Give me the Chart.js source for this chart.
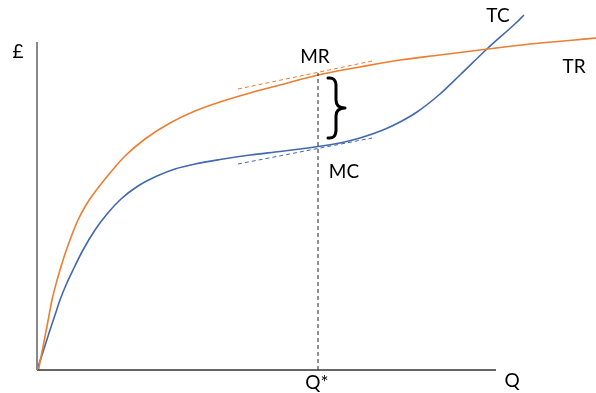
<!DOCTYPE html>
<html>
<head>
<meta charset="utf-8">
<script src="https://cdn.jsdelivr.net/npm/chart.js@4.4.1/dist/chart.umd.min.js"></script>
<style>
html,body{margin:0;padding:0;background:#fff;}
#wrap{width:596px;height:393px;position:relative;}
</style>
</head>
<body>
<div id="wrap"><canvas id="c"></canvas></div>
<script>
// Quantity (x) and £ (y) values
const trX = [1.5, 5, 11, 15, 19, 23, 29, 36, 41, 49, 55, 73, 88, 108, 133, 158, 183, 213, 243, 281, 323, 363, 403, 451, 493, 560];
const trY = [0, 18, 49, 70, 86, 100, 119, 138, 150, 165, 174, 197, 214, 231, 247, 259, 268, 277, 285, 295, 303, 310, 315, 321, 326, 332];
const tcX = [0, 6, 12, 18, 23, 29, 36, 46, 58, 70, 84, 101, 120, 138, 158, 183, 213, 243, 263, 281, 303, 323, 346, 363, 380, 403, 423, 451, 480, 487];
const tcY = [0, 18, 37, 55, 70, 85, 100, 120, 140, 156, 171, 184, 194, 201, 206, 210.5, 215, 218.5, 221, 223.5, 227, 232, 240, 248, 258, 276, 295, 322, 348, 355];
const mrTangentX = [201, 335];
const mrTangentY = [281, 309];
const mcTangentX = [201, 335];
const mcTangentY = [206, 232];
const qStar = 281;
const qStarTop = 297;
const xAxisEnd = 459;
const yAxisEnd = 328;
const labels = [
  {text: '£', x: -19, y: 318},
  {text: 'MR', x: 278, y: 313},
  {text: 'MC', x: 307, y: 198},
  {text: 'TC', x: 461, y: 354},
  {text: 'TR', x: 537, y: 303},
  {text: 'Q', x: 475, y: -11},
  {text: 'Q*', x: 280, y: -13}
];
const brace = {left: 291, stem: 299, tip: 308, top: 293, bottom: 231};

const pts = (xs, ys) => xs.map((x, i) => ({x, y: ys[i]}));
const ORANGE = '#ED7D31', BLUE = '#4268B0';

const annot = {
  id: 'annot',
  afterDatasetsDraw(chart) {
    const {ctx, scales: {x, y}} = chart;
    ctx.save();
    ctx.fillStyle = '#000';
    ctx.font = '19px Lato';
    ctx.textAlign = 'center';
    ctx.textBaseline = 'middle';
    labels.forEach(l => ctx.fillText(l.text, x.getPixelForValue(l.x), y.getPixelForValue(l.y)));
    // curly brace
    const L = x.getPixelForValue(brace.left), S = x.getPixelForValue(brace.stem), P = x.getPixelForValue(brace.tip);
    const T = y.getPixelForValue(brace.top), B = y.getPixelForValue(brace.bottom), M = (T + B) / 2;
    ctx.strokeStyle = '#000';
    ctx.lineWidth = 3;
    ctx.lineCap = 'round';
    ctx.lineJoin = 'round';
    ctx.beginPath();
    ctx.moveTo(L, T + 1);
    ctx.quadraticCurveTo(S, T, S, T + 9);
    ctx.lineTo(S, M - 8);
    ctx.quadraticCurveTo(S, M, P, M);
    ctx.quadraticCurveTo(S, M, S, M + 8);
    ctx.lineTo(S, B - 9);
    ctx.quadraticCurveTo(S, B, L, B - 1);
    ctx.stroke();
    ctx.restore();
  }
};

new Chart(document.getElementById('c'), {
  type: 'scatter',
  data: {
    datasets: [
      {data: pts([0, 0], [0, yAxisEnd]), borderColor: '#888', borderWidth: 2, showLine: true, pointRadius: 0},
      {data: pts([0, xAxisEnd], [0, 0]), borderColor: '#333', borderWidth: 1.5, showLine: true, pointRadius: 0},
      {data: pts([qStar, qStar], [0, qStarTop]), borderColor: '#222', borderWidth: 1, borderDash: [4, 3], showLine: true, pointRadius: 0},
      {data: pts(mrTangentX, mrTangentY), borderColor: ORANGE, borderWidth: 1, borderDash: [4, 3], showLine: true, pointRadius: 0},
      {data: pts(mcTangentX, mcTangentY), borderColor: BLUE, borderWidth: 1, borderDash: [4, 3], showLine: true, pointRadius: 0},
      {data: pts(trX, trY), borderColor: ORANGE, borderWidth: 1.6, showLine: true, pointRadius: 0, cubicInterpolationMode: 'monotone'},
      {data: pts(tcX, tcY), borderColor: BLUE, borderWidth: 1.6, showLine: true, pointRadius: 0, cubicInterpolationMode: 'monotone'}
    ]
  },
  options: {
    responsive: true,
    maintainAspectRatio: false,
    animation: false,
    layout: {padding: 0},
    clip: false,
    plugins: {legend: {display: false}, tooltip: {enabled: false}},
    scales: {
      x: {type: 'linear', min: -37, max: 559, display: false},
      y: {type: 'linear', min: -23, max: 370, display: false}
    }
  },
  plugins: [annot]
});
</script>
</body>
</html>
